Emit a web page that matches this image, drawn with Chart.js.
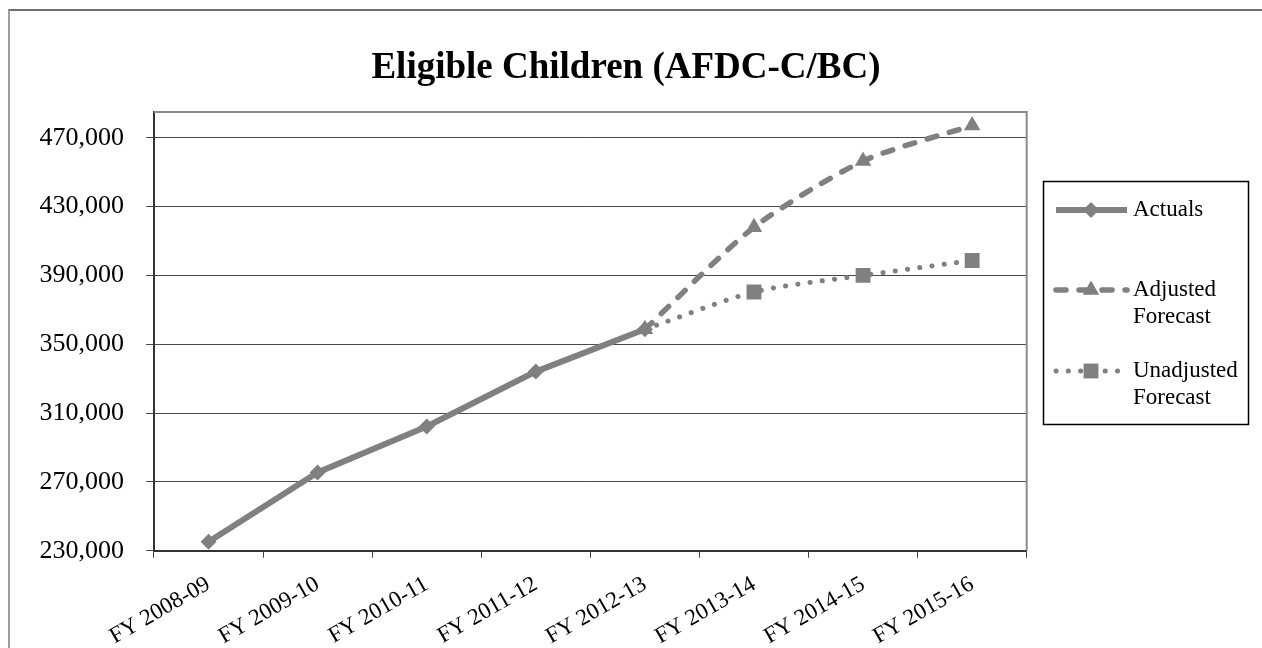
<!DOCTYPE html>
<html>
<head>
<meta charset="utf-8">
<title>Eligible Children (AFDC-C/BC)</title>
<script src="https://cdn.jsdelivr.net/npm/chart.js@4/dist/chart.umd.min.js"></script>
<style>
  html, body { margin: 0; padding: 0; background: #fff; }
  #wrap { position: relative; width: 1262px; height: 648px; overflow: hidden; }
  #frame {
    position: absolute; left: 8px; top: 9px; width: 1400px; height: 800px;
    border-left: 2px solid #a0a0a0; border-top: 2px solid #6e6e6e;
  }
  #c { position: absolute; left: 0; top: 0; }
</style>
</head>
<body>
<div id="wrap">
  <div id="frame"></div>
  <canvas id="c" width="1262" height="648"></canvas>
</div>
<script>
// Fiscal years on the category axis
const categories = ['FY 2008-09', 'FY 2009-10', 'FY 2010-11', 'FY 2011-12',
                    'FY 2012-13', 'FY 2013-14', 'FY 2014-15', 'FY 2015-16'];

// Eligible children counts
const actuals    = [235200, 275500, 302200, 334100, 358700, null, null, null];
const adjusted   = [null, null, null, null, 358700, 418000, 456500, 477200];
const unadjusted = [null, null, null, null, 358700, 380400, 390000, 398700];

// Value axis tick labels
const yTicks = [230000, 270000, 310000, 350000, 390000, 430000, 470000];

const chartTitle = 'Eligible Children (AFDC-C/BC)';
const legendLabels = [['Actuals'], ['Adjusted', 'Forecast'], ['Unadjusted', 'Forecast']];

const GRAY = '#808080';
const SERIF = '"Liberation Serif", "Times New Roman", serif';

const PLOT = { left: 154, right: 1026.7, top: 112, bottom: 550.7 };
const MARK = { rectRot: 8, triangle: 9.5, rect: 10.5 };

function marker(ctx, style, x, y, r) {
  ctx.beginPath();
  if (style === 'rectRot') {
    ctx.moveTo(x, y - r); ctx.lineTo(x + r, y); ctx.lineTo(x, y + r); ctx.lineTo(x - r, y);
  } else if (style === 'triangle') {
    ctx.moveTo(x, y - r); ctx.lineTo(x + r * 0.87, y + r * 0.5); ctx.lineTo(x - r * 0.87, y + r * 0.5);
  } else {
    const s = r * Math.SQRT1_2;
    ctx.rect(x - s, y - s, 2 * s, 2 * s);
  }
  ctx.closePath();
  ctx.fill();
}

// Title, plot frame and boxed legend drawn on the canvas
const decorations = {
  id: 'decorations',
  afterDraw(chart) {
    const ctx = chart.ctx;
    const a = chart.chartArea;
    ctx.save();

    // plot frame: top and right edges
    ctx.strokeStyle = '#8a8a8a';
    ctx.lineWidth = 2;
    ctx.beginPath();
    ctx.moveTo(a.left, a.top);
    ctx.lineTo(a.right, a.top);
    ctx.lineTo(a.right, a.bottom);
    ctx.stroke();

    // title
    ctx.fillStyle = '#000';
    ctx.font = 'bold 37px ' + SERIF;
    ctx.textAlign = 'center';
    ctx.textBaseline = 'middle';
    ctx.fillText(chartTitle, 626, 68);

    // legend box
    ctx.strokeStyle = '#000';
    ctx.lineWidth = 1.5;
    ctx.strokeRect(1043.5, 181.5, 205, 243);

    const rows = [210, 290, 371];
    ctx.font = '23px ' + SERIF;
    ctx.textAlign = 'left';
    chart.data.datasets.forEach((ds, i) => {
      const y = rows[i];
      ctx.strokeStyle = ds.borderColor;
      ctx.lineWidth = ds.borderWidth;
      ctx.lineCap = ds.borderCapStyle || 'butt';
      ctx.setLineDash(ds.borderDash || []);
      ctx.beginPath();
      ctx.moveTo(1056, y);
      ctx.lineTo(1127, y);
      ctx.stroke();
      ctx.setLineDash([]);
      ctx.fillStyle = ds.pointBackgroundColor;
      marker(ctx, ds.pointStyle, 1091, y, MARK[ds.pointStyle]);
      ctx.fillStyle = '#000';
      legendLabels[i].forEach((t, k) => ctx.fillText(t, 1133, y + k * 27));
    });
    ctx.restore();
  }
};

new Chart(document.getElementById('c'), {
  type: 'line',
  data: {
    labels: categories,
    datasets: [
      {
        label: 'Actuals',
        data: actuals,
        order: 1,
        borderColor: GRAY,
        backgroundColor: GRAY,
        borderWidth: 6,
        pointStyle: 'rectRot',
        pointRadius: MARK.rectRot,
        pointBackgroundColor: GRAY,
        pointBorderColor: GRAY,
        pointBorderWidth: 0,
        tension: 0
      },
      {
        label: 'Adjusted Forecast',
        data: adjusted,
        order: 0,
        borderColor: GRAY,
        backgroundColor: GRAY,
        borderWidth: 5.5,
        borderDash: [10, 13],
        borderCapStyle: 'round',
        pointStyle: 'triangle',
        pointRadius: MARK.triangle,
        pointBackgroundColor: GRAY,
        pointBorderColor: GRAY,
        pointBorderWidth: 0,
        tension: 0.25
      },
      {
        label: 'Unadjusted Forecast',
        data: unadjusted,
        order: 2,
        borderColor: GRAY,
        backgroundColor: GRAY,
        borderWidth: 5,
        borderDash: [0.1, 12.2],
        borderCapStyle: 'round',
        pointStyle: 'rect',
        // the shared FY 2012-13 point is marked by the other series
        pointRadius: unadjusted.map((v, i) => (i === 4 ? 0 : MARK.rect)),
        pointBackgroundColor: GRAY,
        pointBorderColor: GRAY,
        pointBorderWidth: 0,
        tension: 0.25
      }
    ]
  },
  options: {
    responsive: false,
    animation: false,
    events: [],
    layout: { padding: { left: 0, top: PLOT.top, right: 1262 - PLOT.right, bottom: 0 } },
    plugins: {
      legend: { display: false },
      title: { display: false },
      tooltip: { enabled: false }
    },
    scales: {
      x: {
        offset: true,
        grid: {
          offset: true,
          drawOnChartArea: false,
          drawTicks: true,
          tickLength: 7,
          color: '#444',
          lineWidth: 1
        },
        border: { display: true, color: '#333', width: 2 },
        ticks: {
          minRotation: 30,
          maxRotation: 30,
          autoSkip: false,
          padding: 13,
          color: '#000',
          font: { family: SERIF, size: 23 }
        },
        afterFit(scale) { scale.height = 648 - PLOT.bottom; }
      },
      y: {
        min: 230000,
        max: 485000,
        afterBuildTicks(scale) { scale.ticks = yTicks.map(v => ({ value: v })); },
        grid: {
          drawOnChartArea: true,
          drawTicks: true,
          tickLength: 8,
          color: '#4a4a4a',
          lineWidth: 1
        },
        border: { display: true, color: '#333', width: 2 },
        ticks: {
          padding: 22,
          color: '#000',
          font: { family: SERIF, size: 26 },
          callback: v => v.toLocaleString('en-US')
        },
        afterFit(scale) { scale.width = PLOT.left; }
      }
    }
  },
  plugins: [decorations]
});
</script>
</body>
</html>
